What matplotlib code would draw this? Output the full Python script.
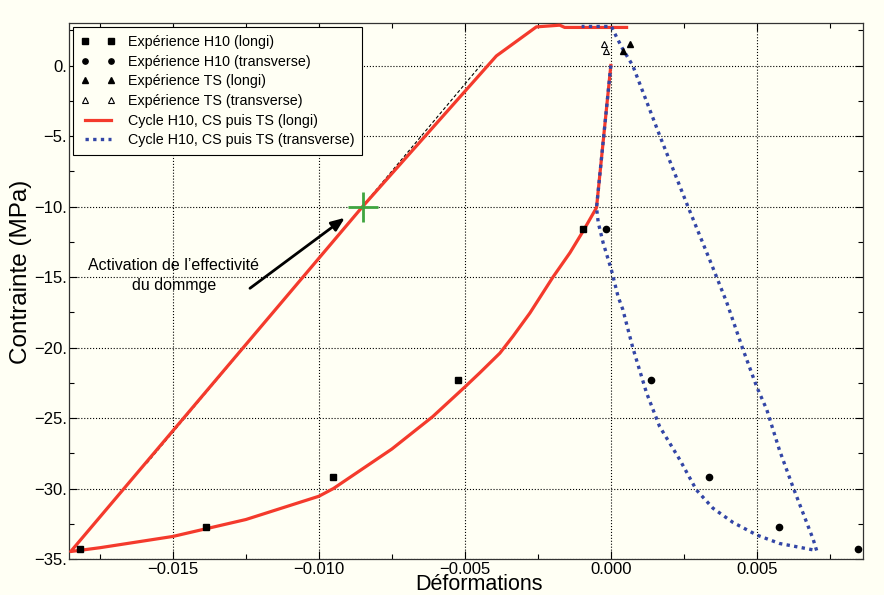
import numpy as np
import matplotlib.pyplot as plt
from matplotlib.ticker import MultipleLocator, FuncFormatter

# ---------- Data ----------
# simulated cycle, longitudinal (red)
red_x = [0.0, -0.00049, -0.00095, -0.0014, -0.00198, -0.00277, -0.00335, -0.0038,
         -0.00449, -0.005, -0.0061, -0.0075, -0.0095, -0.010, -0.0125,
         -0.015, -0.0175, -0.0185,
         -0.0085, -0.00392, -0.00255, -0.00175, -0.00158, 0.00054]
red_y = [0.0, -10.08, -11.75, -13.28, -15.0, -17.55, -19.2, -20.4,
         -21.8, -22.8, -24.9, -27.2, -30.0, -30.55, -32.2,
         -33.4, -34.2, -34.47,
         -10.0, 0.68, 2.74, 2.86, 2.7, 2.7]

# simulated cycle, transverse (blue dotted)
blue_x = [0.0, -0.00049, -0.00043, -0.00026, 0.00002, 0.00025, 0.00041, 0.00075,
          0.00122, 0.00167, 0.00236, 0.00293, 0.0035, 0.00418, 0.005, 0.00578,
          0.00705,
          0.00693, 0.00624, 0.00578, 0.00534, 0.005, 0.00452, 0.00397, 0.00339,
          0.00264, 0.00168, 0.00075, 0.00041, 0.0002, 0.00002, -0.001]
blue_y = [0.0, -10.08, -11.15, -12.6, -14.5, -16.4, -17.3, -20.0,
          -23.2, -25.6, -27.95, -30.1, -31.4, -32.4, -33.3, -33.9,
          -34.4,
          -33.6, -29.9, -27.3, -24.4, -22.8, -20.1, -16.8, -13.8,
          -10.0, -5.0, 0.0, 1.16, 2.0, 2.77, 2.77]

# experimental points
h10_stress = [-34.3, -32.7, -29.2, -22.3, -11.57]
h10_long = [-0.01818, -0.01387, -0.00952, -0.00524, -0.00096]
h10_trans = [0.00846, 0.00575, 0.00336, 0.00137, -0.00017]
ts_stress = [1.04, 1.51]
ts_long = [0.0004, 0.00067]
ts_trans = [-0.00015, -0.00023]

# elastic reference line, activation point and annotation
ref_x = [-0.01589, -0.00438]
ref_y = [-28.2, 0.21]
act_x, act_y = -0.0085, -10.0
arrow_tail = (-0.01236, -15.8)
arrow_head = (-0.00911, -10.8)
note_pos = (-0.01497, -14.9)

# ---------- Plot ----------
plt.rcParams["font.family"] = ["Liberation Sans", "DejaVu Sans"]
bg = "#fffff4"

fig = plt.figure(figsize=(8.84, 5.95), dpi=100, facecolor=bg)
ax = fig.add_axes([0.078, 0.0605, 0.898, 0.9005], facecolor=bg)

ax.plot(ref_x, ref_y, color="black", lw=0.8, ls=(0, (3, 2)), zorder=2)
ax.plot(red_x, red_y, color="#f43a2c", lw=2.3, zorder=3,
        label="Cycle H10, CS puis TS (longi)")
ax.plot(blue_x, blue_y, color="#3346a6", lw=2.4, ls=(0, (1, 1.3)), zorder=4,
        label="Cycle H10, CS puis TS (transverse)")

ax.plot(h10_long, h10_stress, ls="none", marker="s", ms=5, color="black", zorder=5,
        label="Expérience H10 (longi)")
ax.plot(h10_trans, h10_stress, ls="none", marker="o", ms=4.5, color="black", zorder=5,
        label="Expérience H10 (transverse)")
ax.plot(ts_long, ts_stress, ls="none", marker="^", ms=4.5, color="black", zorder=5,
        label="Expérience TS (longi)")
ax.plot(ts_trans, ts_stress, ls="none", marker="^", ms=4.5, mfc="white", mec="black",
        mew=0.8, zorder=5, label="Expérience TS (transverse)")

ax.plot([act_x], [act_y], marker="+", ms=22, mew=2, color="#3fa53f", zorder=6)

ax.annotate("", xy=arrow_head, xytext=arrow_tail,
            arrowprops=dict(arrowstyle="-|>,head_length=0.8,head_width=0.32",
                            color="black", lw=2, shrinkA=0, shrinkB=0))
ax.text(note_pos[0], note_pos[1], "Activation de l\u2019effectivité\ndu dommge",
        ha="center", va="center", fontsize=11.5, linespacing=1.45)

ax.set_xlim(-0.01856, 0.00863)
ax.set_ylim(-35, 3.0)

ax.xaxis.set_major_locator(MultipleLocator(0.005))
ax.xaxis.set_minor_locator(MultipleLocator(0.0025))
ax.yaxis.set_major_locator(MultipleLocator(5))
ax.yaxis.set_minor_locator(MultipleLocator(2.5))
ax.xaxis.set_major_formatter(FuncFormatter(lambda v, p: f"{v:.3f}".replace("-", "\u2212")
                                           if abs(v) > 1e-9 else "0.000"))
ax.yaxis.set_major_formatter(FuncFormatter(lambda v, p: f"{v:.0f}.".replace("-", "\u2212")
                                           if abs(v) > 1e-9 else "0."))
ax.tick_params(which="both", direction="in", top=True, right=True, labelsize=12,
               width=0.8)
ax.tick_params(axis="x", pad=2)
ax.tick_params(axis="y", pad=1.5)
ax.tick_params(which="major", length=6)
ax.tick_params(which="minor", length=3.5)
for s in ax.spines.values():
    s.set_linewidth(0.9)
    s.set_color("#333333")

ax.grid(True, which="major", color="black", ls=":", lw=0.8)

ax.set_xlabel("Déformations", fontsize=15.5)
ax.xaxis.set_label_coords(0.517, -0.0578)
ax.xaxis.label.set_va("baseline")
ax.set_ylabel("Contrainte (MPa)", fontsize=17.5)
ax.yaxis.set_label_coords(-0.0466, 0.535)

handles, labels = ax.get_legend_handles_labels()
order = [2, 3, 4, 5, 0, 1]
leg = ax.legend([handles[i] for i in order], [labels[i] for i in order],
                loc="upper left", bbox_to_anchor=(0.005, 0.993), borderaxespad=0,
                fontsize=10.3, numpoints=2, handlelength=2.4, labelspacing=0.4,
                fancybox=False, framealpha=1, facecolor=bg, edgecolor="black",
                borderpad=0.55, handletextpad=0.9, markerscale=0.85)
leg.get_frame().set_linewidth(0.8)

fig.savefig("out.png", dpi=100, facecolor=bg)
